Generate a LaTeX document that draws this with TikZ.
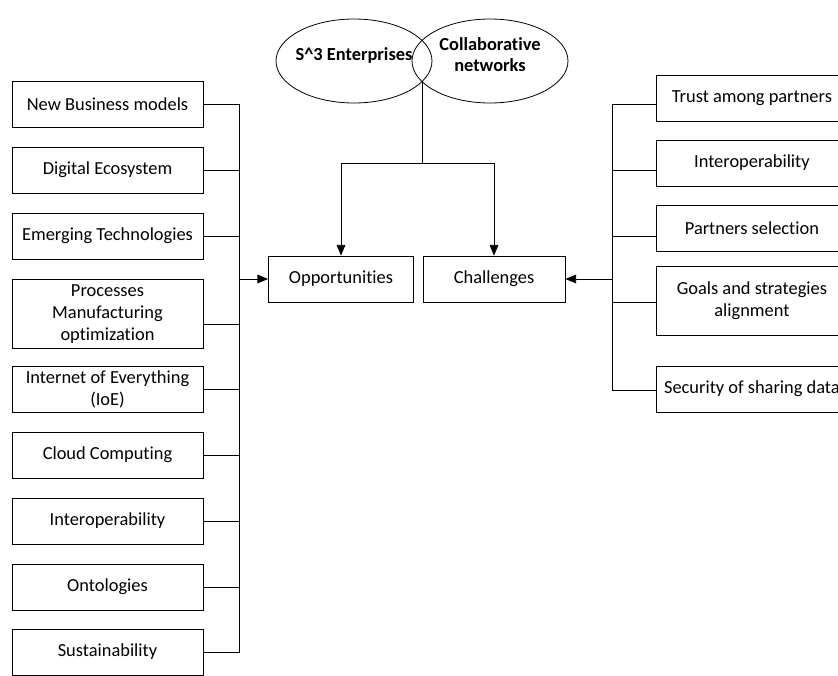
\documentclass[tikz,border=0pt]{standalone}
\usepackage{fontspec}
\setmainfont{Carlito}[Ligatures=NoCommon]
\usetikzlibrary{shapes.geometric,arrows.meta}
\begin{document}
\begin{tikzpicture}[x=0.75pt,y=-0.75pt]
    % size of each box
    \def\bw{143.25pt}
    \def\bh{34.5pt}
    % node style definition
    \tikzstyle{block} = [
    	draw, rectangle, align=center, inner sep=1pt, line width=0.6pt,
    	minimum height=\bh, minimum width=\bw,
    	font=\fontsize{13.8}{16.5}\selectfont ];
    \tikzstyle{bubble} = [
    	draw, ellipse, align=center, line width=0.6pt,
    	inner xsep=-3pt, inner ysep=0pt,
    	minimum width=117pt, minimum height=63pt,
    	font=\fontsize{13.8}{16}\selectfont\bfseries ];
    \tikzstyle{link} = [line width=0.6pt];
    \tikzstyle{arr} = [link, -{Triangle[length=8pt,width=6.5pt]}];
    % page frame
    \useasboundingbox (0,0) rectangle (838,675);
    \clip (0,0) rectangle (838,675);
    % the two ellipses
    \node[bubble, text depth=11pt] (s3) at (354,61) {S\^{}3 Enterprises};
    \node[bubble, text depth=10pt] (cn) at (490,61) {Collaborative\\networks};
    % middle boxes
    \node[block, minimum width=108.75pt] (opp) at (341,279) {Opportunities};
    \node[block, minimum width=106.5pt] (chal) at (494,279) {Challenges};
    % split point and bars
    \coordinate (split) at (422,81);
    \coordinate (bar) at (422,163);
    \coordinate (lb) at (239,279);
    \coordinate (rb) at (612,279);
    \draw[link] (split) -- (bar);
    \draw[arr] (bar) -| (opp.north);
    \draw[arr] (bar) -| (chal.north);
    % left boxes: y / height / connector offset / text
    \foreach \y/\h/\c/\txt [count=\i] in {
    	104/46/0/New Business models,
    	170/46/0/Digital Ecosystem,
    	236/46/0/Emerging Technologies,
    	314/69/10/{Processes\\Manufacturing\\optimization},
    	389/46/0/{Internet of Everything\\(IoE)},
    	455/46/0/Cloud Computing,
    	521/46/0/Interoperability,
    	587/46/0/Ontologies,
    	652/46/0/Sustainability}
    {
    	\node[block, minimum height={\h*0.75pt}] (l\i) at (107.5,\y) {\txt};
    	\draw[link] ([yshift={-\c*0.75pt}]l\i.east) -| (lb);
    }
    \draw[arr] (lb) -- (opp.west);
    % right boxes
    \foreach \y/\h/\c/\txt [count=\i] in {
    	98/46/6/Trust among partners,
    	163/46/7/Interoperability,
    	228/46/8/Partners selection,
    	301/69/1/{Goals and strategies\\alignment},
    	389/46/1/Security of sharing data}
    {
    	\node[block, anchor=west, minimum height={\h*0.75pt}] (r\i) at (656,\y) {\txt};
    	\draw[link] ([yshift={-\c*0.75pt}]r\i.west) -| (rb);
    }
    \draw[arr] (rb) -- (chal.east);
\end{tikzpicture}
\end{document}
